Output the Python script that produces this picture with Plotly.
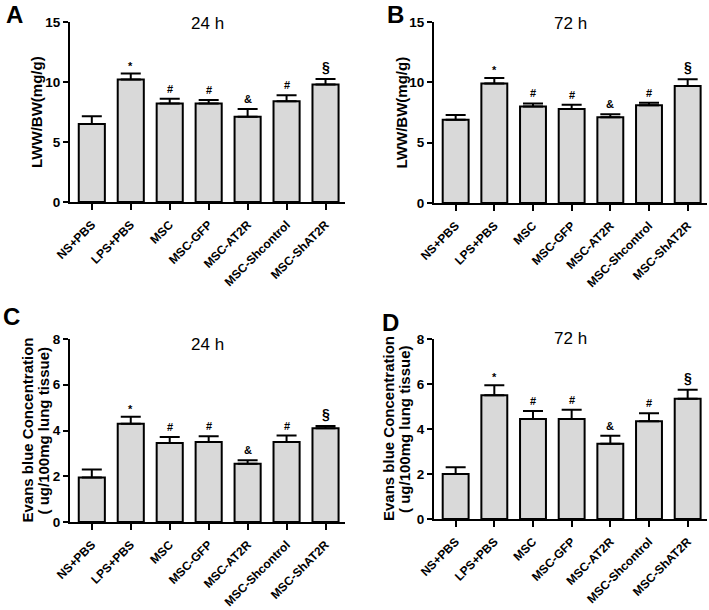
import plotly.graph_objects as go

W, H = 709, 610

groups = ["NS+PBS", "LPS+PBS", "MSC", "MSC-GFP", "MSC-AT2R", "MSC-Shcontrol", "MSC-ShAT2R"]
marks = ["", "*", "#", "#", "&", "#", "§"]

lww_24 = [6.5, 10.2, 8.2, 8.2, 7.1, 8.4, 9.8]
lww_24_err = [0.65, 0.5, 0.4, 0.3, 0.65, 0.5, 0.45]
lww_72 = [6.9, 9.9, 8.0, 7.8, 7.1, 8.1, 9.7]
lww_72_err = [0.4, 0.45, 0.25, 0.35, 0.25, 0.2, 0.55]
eb_24 = [1.95, 4.3, 3.45, 3.5, 2.55, 3.5, 4.1]
eb_24_err = [0.35, 0.3, 0.27, 0.25, 0.15, 0.28, 0.1]
eb_72 = [2.0, 5.5, 4.45, 4.45, 3.35, 4.35, 5.35]
eb_72_err = [0.3, 0.45, 0.35, 0.4, 0.35, 0.35, 0.4]

FONT = "Liberation Sans, Arial, sans-serif"

def px(x):
    return x / W

def py(y):
    return 1 - y / H

panels = [
    dict(vals=lww_24, err=lww_24_err, xd=(70, 345), yd=(22, 202), yr=[0, 15], dt=5,
         title="24 h", ty=24, letter="A", lx=14, ly=14,
         ytitle=["LWW/BW(mg/g)"], ytx=[37]),
    dict(vals=lww_72, err=lww_72_err, xd=(434, 707), yd=(22, 203), yr=[0, 15], dt=5,
         title="72 h", ty=24, letter="B", lx=395, ly=14,
         ytitle=["LWW/BW(mg/g)"], ytx=[401]),
    dict(vals=eb_24, err=eb_24_err, xd=(70, 345), yd=(339, 522), yr=[0, 8], dt=2,
         title="24 h", ty=344, letter="C", lx=11, ly=316,
         ytitle=["Evans blue Concentration", "( ug/100mg lung tissue)"], ytx=[27, 43]),
    dict(vals=eb_72, err=eb_72_err, xd=(434, 707), yd=(339, 519), yr=[0, 8], dt=2,
         title="72 h", ty=338, letter="D", lx=390, ly=322,
         ytitle=["Evans blue Concentration", "( ug/100mg lung tissue)"], ytx=[388, 404]),
]

fig = go.Figure()
annotations = []
layout = {}

for i, p in enumerate(panels, start=1):
    xa = "x" if i == 1 else f"x{i}"
    ya = "y" if i == 1 else f"y{i}"
    fig.add_trace(go.Bar(
        x=list(range(len(groups))), y=p["vals"], xaxis=xa, yaxis=ya,
        width=0.67,
        marker=dict(color="#d9d9d9", line=dict(color="black", width=2)),
        error_y=dict(type="data", symmetric=False, array=p["err"],
                     arrayminus=[0] * len(groups), color="black",
                     thickness=2, width=10),
        showlegend=False, hoverinfo="skip",
    ))
    axis_common = dict(showline=True, linecolor="black", linewidth=2,
                       ticks="outside", tickcolor="black", tickwidth=2,
                       showgrid=False, zeroline=False, automargin=False)
    layout["xaxis" if i == 1 else f"xaxis{i}"] = dict(
        axis_common, domain=[px(p["xd"][0]), px(p["xd"][1])],
        range=[-0.56, 6.5], anchor=ya, ticklen=6,
        tickmode="array", tickvals=list(range(len(groups))),
        ticktext=[f"<b>{g}</b>" for g in groups], tickangle=-45,
        ticklabelstandoff=3,
        tickfont=dict(family=FONT, size=12, color="black"),
    )
    layout["yaxis" if i == 1 else f"yaxis{i}"] = dict(
        axis_common, domain=[py(p["yd"][1]), py(p["yd"][0])],
        range=p["yr"], anchor=xa, dtick=p["dt"], tick0=0, ticklen=5,
        tickprefix="<b>", ticksuffix="</b>",
        tickfont=dict(family=FONT, size=13.5, color="black"),
    )
    # significance marks
    for j, m in enumerate(marks):
        if not m:
            continue
        annotations.append(dict(
            x=j, y=p["vals"][j] + p["err"][j], xref=xa, yref=ya,
            text=f"<b>{m}</b>", showarrow=False, yanchor="bottom",
            yshift=0 if m == "*" else 2,
            font=dict(family=FONT, size=14 if m == "§" else 11, color="black"),
        ))
    # panel title
    annotations.append(dict(
        x=px((p["xd"][0] + p["xd"][1]) / 2), y=py(p["ty"]), xref="paper", yref="paper",
        text=p["title"], showarrow=False, xanchor="center", yanchor="middle",
        font=dict(family=FONT, size=17, color="black"),
    ))
    # panel letter
    annotations.append(dict(
        x=px(p["lx"]), y=py(p["ly"]), xref="paper", yref="paper",
        text=f"<b>{p['letter']}</b>", showarrow=False, xanchor="center", yanchor="middle",
        font=dict(family=FONT, size=24, color="black"),
    ))
    # y titles
    yc = (p["yd"][0] + p["yd"][1]) / 2
    for t, tx in zip(p["ytitle"], p["ytx"]):
        annotations.append(dict(
            x=px(tx), y=py(yc), xref="paper", yref="paper",
            text=f"<b>{t}</b>", showarrow=False, textangle=-90,
            xanchor="center", yanchor="middle",
            font=dict(family=FONT, size=15, color="black"),
        ))

fig.update_layout(
    template="none",
    width=W, height=H,
    margin=dict(l=0, r=0, t=0, b=0, autoexpand=False),
    paper_bgcolor="white", plot_bgcolor="white",
    annotations=annotations,
    bargap=0.33,
    **layout,
)

fig.write_html(
    "out.html",
    config={"displayModeBar": False},
    post_script="document.body.style.margin='0';document.body.style.overflow='hidden';",
)
